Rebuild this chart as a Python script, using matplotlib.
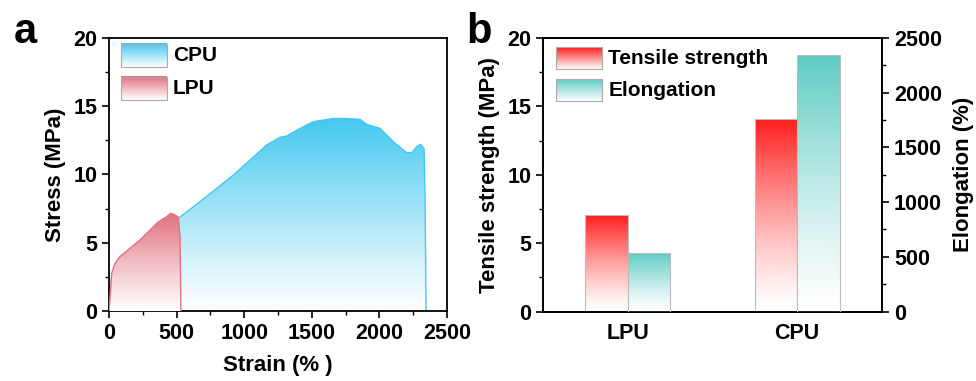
import numpy as np
import matplotlib
matplotlib.use("Agg")
import matplotlib.pyplot as plt
from matplotlib.colors import LinearSegmentedColormap
from matplotlib.patches import Polygon, Rectangle
from matplotlib.ticker import MultipleLocator

plt.rcParams['font.family'] = ['Liberation Sans', 'DejaVu Sans']
plt.rcParams['font.weight'] = 'bold'
plt.rcParams['axes.labelweight'] = 'bold'

# stress-strain curves
cpu_strain = [0, 20, 80, 200, 350, 450, 513, 673, 920, 1043, 1166, 1265, 1314, 1437, 1511,
              1659, 1760, 1857, 1906, 2004, 2103, 2202, 2239, 2276, 2306, 2330, 2338, 2345]
cpu_stress = [0, 2.5, 3.7, 4.8, 5.9, 6.4, 6.79, 8.01, 9.96, 11.06, 12.16, 12.72, 12.82, 13.5, 13.87,
              14.11, 14.1, 14.04, 13.67, 13.38, 12.4, 11.6, 11.6, 12.04, 12.2, 11.9, 8.13, 0]
lpu_strain = [0, 20, 44, 81, 155, 229, 303, 365, 427, 456, 488, 513, 525, 532]
lpu_stress = [0, 2.76, 3.49, 3.98, 4.59, 5.2, 5.93, 6.54, 6.91, 7.16, 7.04, 6.87, 5.45, 0]

# bar chart values
samples = ['LPU', 'CPU']
tensile = [7.05, 14.1]
elongation = [537, 2348]

BLUE = '#44C8F0'
PINK = '#E27080'
RED = '#FF1E1E'
TEAL = '#5ECCC4'

grad = np.linspace(0, 1, 256).reshape(-1, 1)


def cmap_of(color):
    return LinearSegmentedColormap.from_list('g', ['white', color])


def gradient_area(ax, x, y, color, z):
    verts = list(zip(x, y)) + [(x[-1], 0), (x[0], 0)]
    patch = Polygon(verts, closed=True, facecolor='none', edgecolor='none')
    ax.add_patch(patch)
    im = ax.imshow(grad ** 1.1, extent=[min(x), max(x), 0, max(y)], origin='lower', aspect='auto',
                   cmap=cmap_of(color), vmin=0, vmax=1, zorder=z)
    im.set_clip_path(patch)
    ax.plot(x, y, color=color, lw=1.0, zorder=z + 0.1)


def gradient_bar(ax, x0, w, h, color):
    ax.imshow(grad ** 1.3, extent=[x0, x0 + w, 0, h], origin='lower', aspect='auto',
              cmap=cmap_of(color), vmin=0, vmax=1, zorder=2)
    ax.add_patch(Rectangle((x0, 0), w, h, facecolor='none', edgecolor='#BBBBBB', lw=0.8, zorder=3))


def legend_box(ax, x, y, w, h, color, label):
    ax.imshow(grad, extent=[x, x + w, y, y + h], origin='lower', aspect='auto',
              cmap=cmap_of(color), vmin=0, vmax=1, transform=ax.transAxes, zorder=5)
    ax.add_patch(Rectangle((x, y), w, h, facecolor='none', edgecolor='#AAAAAA', lw=0.8,
                           transform=ax.transAxes, zorder=6))
    ax.text(x + w + 0.018, y + h / 2, label, transform=ax.transAxes, fontsize=15,
            fontweight='bold', va='center', ha='left', zorder=6)


def style_ticks(ax):
    ax.tick_params(which='major', direction='out', length=5, width=1.2, labelsize=15.5)
    ax.tick_params(which='minor', direction='out', length=3, width=1.0)
    for s in ax.spines.values():
        s.set_linewidth(1.3)


fig = plt.figure(figsize=(9.76, 3.81), dpi=100)
ax1 = fig.add_axes([0.1117, 0.1837, 0.3463, 0.7166])
ax2 = fig.add_axes([0.5563, 0.1824, 0.3474, 0.7179])

# panel a
gradient_area(ax1, cpu_strain, cpu_stress, BLUE, 2)
gradient_area(ax1, lpu_strain, lpu_stress, PINK, 3)
legend_box(ax1, 0.035, 0.893, 0.136, 0.085, BLUE, 'CPU')
legend_box(ax1, 0.035, 0.773, 0.136, 0.085, PINK, 'LPU')
ax1.set_xlim(0, 2500)
ax1.set_ylim(0, 20)
ax1.xaxis.set_major_locator(MultipleLocator(500))
ax1.xaxis.set_minor_locator(MultipleLocator(250))
ax1.yaxis.set_major_locator(MultipleLocator(5))
ax1.yaxis.set_minor_locator(MultipleLocator(2.5))
style_ticks(ax1)
ax1.set_xlabel('Strain (% )', fontsize=16, labelpad=8)
ax1.set_ylabel('Stress (MPa)', fontsize=16, labelpad=5)

# panel b
ax3 = ax2.twinx()
pos = np.arange(1, len(samples) + 1)
w = 0.25
for p, v in zip(pos, tensile):
    gradient_bar(ax2, p - w, w, v, RED)
for p, v in zip(pos, elongation):
    gradient_bar(ax3, p, w, v, TEAL)
legend_box(ax2, 0.038, 0.886, 0.137, 0.08, RED, 'Tensile strength')
legend_box(ax2, 0.038, 0.769, 0.137, 0.08, TEAL, 'Elongation')
ax2.set_xlim(0.5, 2.5)
ax2.set_ylim(0, 20)
ax3.set_ylim(0, 2500)
ax2.set_xticks(pos)
ax2.set_xticklabels(samples)
ax2.yaxis.set_major_locator(MultipleLocator(5))
ax2.yaxis.set_minor_locator(MultipleLocator(2.5))
ax3.yaxis.set_major_locator(MultipleLocator(500))
ax3.yaxis.set_minor_locator(MultipleLocator(250))
style_ticks(ax2)
style_ticks(ax3)
ax2.tick_params(axis='x', length=0, pad=8)
ax2.set_ylabel('Tensile strength (MPa)', fontsize=16, labelpad=5)
ax3.set_ylabel('Elongation (%)', fontsize=16, labelpad=8)

fig.text(0.014, 0.888, 'a', fontsize=30, fontweight='bold')
fig.text(0.478, 0.888, 'b', fontsize=30, fontweight='bold')

fig.savefig('out.png', dpi=100)
